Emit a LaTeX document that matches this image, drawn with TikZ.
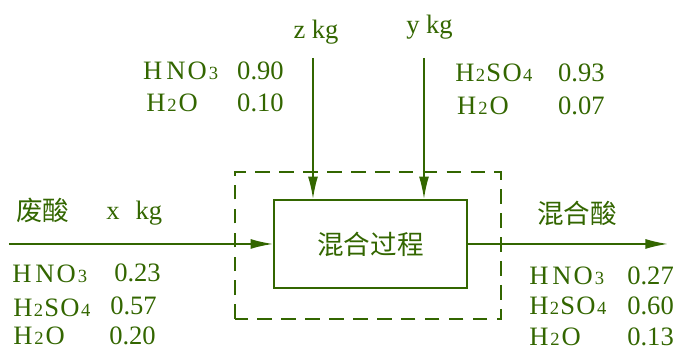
\documentclass[tikz,border=0pt]{standalone}
\usepackage{fontspec}
\setmainfont{Liberation Serif}
\newfontfamily\cjk{Noto Sans CJK SC}
\usetikzlibrary{arrows.meta}
\definecolor{acidgreen}{RGB}{51,102,0}
\newcommand{\sm}[1]{{\fontsize{14}{14}\selectfont #1}}
\newcommand{\fHNO}{H\kern3pt N\kern1.5pt O\kern1.5pt\sm{3}}
\newcommand{\fHSO}{H\kern1pt\sm{2}\kern1pt S\kern1pt O\kern1pt\sm{4}}
\newcommand{\fHWO}{H\kern1.5pt\sm{2}\kern1.5pt O}

\begin{document}
\begin{tikzpicture}[line cap=butt,line join=miter,
  txt/.style={inner sep=0pt,text=acidgreen,font=\fontsize{20}{24}\selectfont},
  flow/.style={draw=acidgreen,line width=1.3pt,-{Latex[length=17pt,width=7.5pt]}}]
  \useasboundingbox (0,0) rectangle (17.886,9.260);
  % system boundary and mixer
  \draw[acidgreen,line width=1.2pt,dash pattern=on 11pt off 7pt] (6.218,0.820) -- (6.218,4.710) -- (13.256,4.710) -- (13.256,0.820) -- cycle;
  \node[txt,draw=acidgreen,line width=1.3pt,minimum width=5.106cm,minimum height=2.329cm] (mix) at (9.803,2.805) {\cjk 混合过程};
  % streams
  \coordinate (wastein) at (0.238,2.805);
  \coordinate (mixout) at (17.674,2.805);
  \coordinate (ztop) at (8.281,7.726);
  \coordinate (ytop) at (11.218,7.726);
  \draw[flow] (wastein) -- (mix.west);
  \draw[flow] (mix.east) -- (mixout);
  \draw[flow] (ztop) -- (mix.north -| ztop);
  \draw[flow] (ytop) -- (mix.north -| ytop);
  % top labels
  \node[txt] (zlab) at (8.361,8.414) {z kg};
  \node[txt] (ylab) at (11.364,8.533) {y kg};
  \node[txt,anchor=west] (zHNO) at (3.783,7.382) {\fHNO};
  \node[txt,anchor=west] (zHNOv) at (6.270,7.382) {0.90};
  \node[txt,anchor=west] (zHWO) at (3.863,6.548) {\fHWO};
  \node[txt,anchor=west] (zHWOv) at (6.270,6.548) {0.10};
  \node[txt,anchor=west] (yHSO) at (12.040,7.342) {\fHSO};
  \node[txt,anchor=west] (yHSOv) at (14.760,7.342) {0.93};
  \node[txt,anchor=west] (yHWO) at (12.090,6.456) {\fHWO};
  \node[txt,anchor=west] (yHWOv) at (14.760,6.456) {0.07};
  % waste acid
  \node[txt,anchor=west] (xname) at (0.423,3.704) {\cjk 废酸};
  \node[txt,anchor=west] (xlab) at (2.805,3.625) {x\hspace{12pt}kg};
  \node[txt,anchor=west] (xHNO) at (0.318,2.011) {\fHNO};
  \node[txt,anchor=west] (xHNOv) at (3.016,2.050) {0.23};
  \node[txt,anchor=west] (xHSO) at (0.344,1.124) {\fHSO};
  \node[txt,anchor=west] (xHSOv) at (2.910,1.164) {0.57};
  \node[txt,anchor=west] (xHWO) at (0.344,0.370) {\fHWO};
  \node[txt,anchor=west] (xHWOv) at (2.884,0.370) {0.20};
  % mixed acid
  \node[txt,anchor=west] (mname) at (14.208,3.612) {\cjk 混合酸};
  \node[txt,anchor=west] (mHNO) at (13.996,1.971) {\fHNO};
  \node[txt,anchor=west] (mHNOv) at (16.590,1.971) {0.27};
  \node[txt,anchor=west] (mHSO) at (13.996,1.164) {\fHSO};
  \node[txt,anchor=west] (mHSOv) at (16.590,1.164) {0.60};
  \node[txt,anchor=west] (mHWO) at (13.996,0.344) {\fHWO};
  \node[txt,anchor=west] (mHWOv) at (16.590,0.344) {0.13};
\end{tikzpicture}
\end{document}
